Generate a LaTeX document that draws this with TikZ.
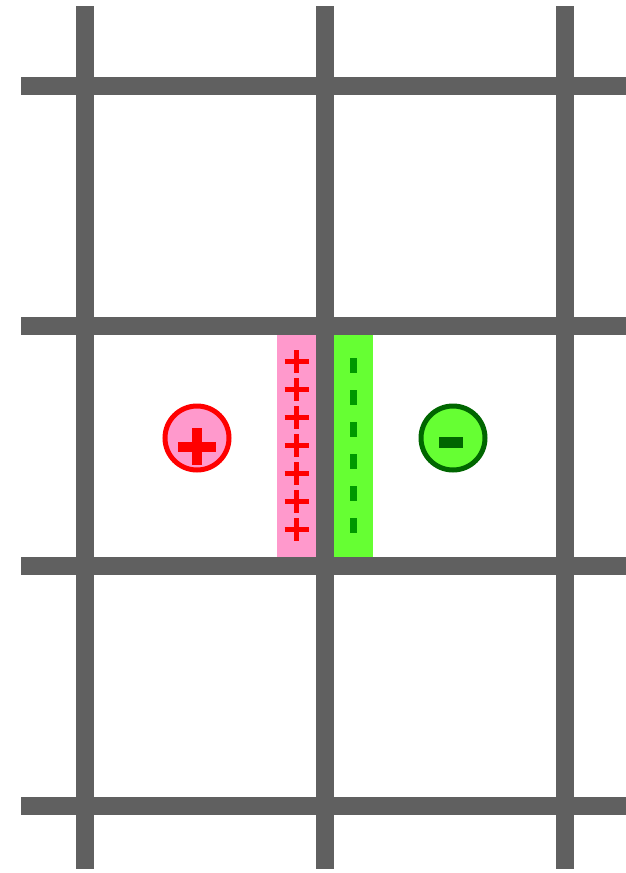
\documentclass[tikz,border=0pt]{standalone}
\usetikzlibrary{calc}
\definecolor{gridgrey}{HTML}{606060}
\definecolor{pinkfill}{HTML}{FF99CC}
\definecolor{greenfill}{HTML}{66FF33}
\definecolor{darkgreen}{HTML}{006600}
\definecolor{dashgreen}{HTML}{009900}
\tikzset{
  gridline/.style={draw=gridgrey, line width=18pt},
  plusmark/.style={draw=red, line width=4.5pt},
  minusmark/.style={fill=dashgreen, draw=none},
  poscharge/.style={circle, draw=red, fill=pinkfill, line width=5pt, minimum size=64pt, inner sep=0pt},
  negcharge/.style={circle, draw=darkgreen, fill=greenfill, line width=5pt, minimum size=64pt, inner sep=0pt}
}
\begin{document}
\begin{tikzpicture}[x=1pt,y=-1pt]
\useasboundingbox (0,0) rectangle (626,873);
% strips
\fill[pinkfill] (277,335) rectangle (316,557);
\fill[greenfill] (334,335) rectangle (373,557);
% grid
\foreach \x in {85,325,565} \draw[gridline] (\x,6) -- (\x,869);
\foreach \y in {86,326,566,806} \draw[gridline] (21,\y) -- (626,\y);
% plus marks
\foreach \i in {0,...,6} {
  \draw[plusmark] (284.5,361.5+28*\i) -- (309,361.5+28*\i);
  \draw[plusmark] (296.7,350+28*\i) -- (296.7,373+28*\i);
}
% minus marks
\foreach \i in {0,...,5} {
  \fill[minusmark] (350,358+32*\i) rectangle (357,373+32*\i);
}
% charges
\node[poscharge] (pos) at (197,438) {};
\node[negcharge] (neg) at (453,438) {};
\fill[red] (178.3,441.7) rectangle (216,451.7);
\fill[red] (192.3,427.7) rectangle (202.3,465);
\fill[darkgreen] (439,437) rectangle (463,448.3);
\end{tikzpicture}
\end{document}
